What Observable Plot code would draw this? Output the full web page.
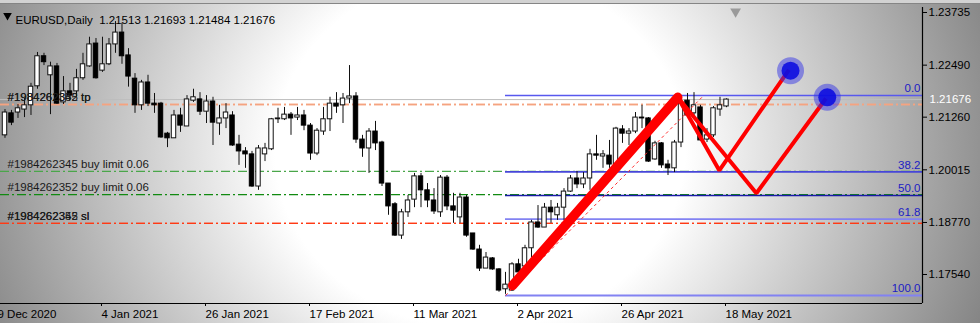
<!DOCTYPE html>
<html>
<head>
<meta charset="utf-8">
<script src="https://cdn.jsdelivr.net/npm/d3@7"></script>
<script src="https://cdn.jsdelivr.net/npm/@observablehq/plot@0.6"></script>
<style>
  html, body { margin: 0; padding: 0; width: 980px; height: 323px; overflow: hidden; }
  #wrap {
    position: relative; width: 980px; height: 323px;
    background: radial-gradient(ellipse 540px 470px at 480px 150px, #ffffff 0%, #ffffff 38%, #848484 100%);
  }
  #strip { position: absolute; left: 0; top: 0; width: 980px; height: 3px; background: #d2d2d2; border-bottom: 1px solid #858585; }
  #wrap svg { position: absolute; left: 0; top: 0; }
</style>
</head>
<body>
<div id="wrap"><div id="strip"></div></div>
<script>
// ---------- data ----------
const symbolTitle = "EURUSD,Daily  1.21513 1.21693 1.21484 1.21676";
const firstBar = 1; // bar index of first candle (0 = 9 Dec 2020)
const openP = [1.2083,1.2135,1.2137,1.2144,1.2154,1.2199,1.2270,1.2225,1.2246,1.2161,
  1.2187,1.2187,1.2218,1.2246,1.2300,1.2236,1.2251,1.2298,1.2326,1.2272,
  1.2217,1.2154,1.2208,1.2158,1.2158,1.2087,1.2076,1.2130,1.2104,1.2165,
  1.2168,1.2139,1.2163,1.2111,1.2123,1.2130,1.2061,1.2045,1.2038,1.1962,
  1.2038,1.2050,1.2121,1.2121,1.2132,1.2125,1.2130,1.2106,1.2040,1.2092,
  1.2121,1.2158,1.2154,1.2170,1.2175,1.2073,1.2052,1.2092,1.2066,1.1969,
  1.1920,1.1846,1.1901,1.1931,1.1986,1.1953,1.1929,1.1901,1.1983,1.1915,
  1.1889,1.1936,1.1851,1.1813,1.1768,1.1792,1.1766,1.1719,1.1716,1.1778,
  1.1773,1.1816,1.1877,1.1865,1.1912,1.1894,1.1912,1.1950,1.1981,1.1967,
  1.1981,1.2038,1.2033,1.2035,1.2014,1.2097,1.2087,1.2092,1.2125,1.2123,
  1.2026,1.2064,1.2014,1.2005,1.2066,1.2165,1.2135,1.2149,1.2073,1.2083,
  1.2144,1.21513];
const highP = [1.2144,1.2142,1.2156,1.2170,1.2206,1.2279,1.2277,1.2256,1.2253,1.2222,
  1.2206,1.2239,1.2277,1.2315,1.2312,1.2315,1.2312,1.2352,1.2348,1.2288,
  1.2229,1.2213,1.2225,1.2182,1.2161,1.2090,1.2142,1.2147,1.2177,1.2192,
  1.2184,1.2177,1.2173,1.2154,1.2158,1.2139,1.2083,1.2054,1.2045,1.2059,
  1.2064,1.2123,1.2147,1.2149,1.2137,1.2149,1.2142,1.2111,1.2099,1.2149,
  1.2173,1.2184,1.2182,1.2248,1.2184,1.2083,1.2099,1.2116,1.2069,1.1969,
  1.1924,1.1908,1.1941,1.1993,1.1993,1.1969,1.1957,1.1988,1.1988,1.1946,
  1.1946,1.1941,1.1851,1.1823,1.1806,1.1794,1.1768,1.1759,1.1782,1.1790,
  1.1823,1.1882,1.1917,1.1922,1.1929,1.1922,1.1957,1.1988,1.1998,1.1995,
  1.2050,1.2083,1.2047,1.2071,1.2102,1.2106,1.2099,1.2137,1.2154,1.2125,
  1.2069,1.2066,1.2024,1.2071,1.2165,1.2182,1.2184,1.2154,1.2099,1.2151,
  1.2173,1.21693];
const lowP = [1.2076,1.2106,1.2123,1.2125,1.2130,1.2192,1.2248,1.2132,1.2156,1.2156,
  1.2165,1.2173,1.2213,1.2244,1.2216,1.2232,1.2248,1.2277,1.2251,1.2197,
  1.2135,1.2142,1.2151,1.2135,1.2076,1.2054,1.2076,1.2090,1.2104,1.2161,
  1.2130,1.2111,1.2059,1.2083,1.2099,1.2057,1.2012,1.2005,1.1960,1.1953,
  1.2021,1.2047,1.2111,1.2118,1.2083,1.2118,1.2094,1.2024,1.2035,1.2083,
  1.2092,1.2135,1.2111,1.2158,1.2064,1.2031,1.1993,1.2047,1.1962,1.1894,
  1.1844,1.1837,1.1889,1.1912,1.1912,1.1912,1.1896,1.1889,1.1905,1.1875,
  1.1875,1.1842,1.1811,1.1761,1.1768,1.1764,1.1712,1.1707,1.1714,1.1759,
  1.1771,1.1794,1.1863,1.1865,1.1875,1.1882,1.1882,1.1948,1.1957,1.1957,
  1.1953,1.2024,1.2005,1.2005,1.2012,1.2064,1.2059,1.2087,1.2099,1.2019,
  1.2024,1.2005,1.1988,1.1995,1.2054,1.2128,1.2128,1.2069,1.2066,1.2078,
  1.2128,1.21484];
const closeP = [1.2137,1.2113,1.2147,1.2154,1.2198,1.2270,1.2256,1.2246,1.2158,1.2187,
  1.2177,1.2218,1.2251,1.2298,1.2218,1.2251,1.2298,1.2326,1.2270,1.2222,
  1.2154,1.2208,1.2158,1.2154,1.2078,1.2076,1.2130,1.2106,1.2168,1.2173,
  1.2139,1.2163,1.2113,1.2123,1.2137,1.2059,1.2045,1.2038,1.1962,1.2052,
  1.2052,1.2121,1.2123,1.2132,1.2123,1.2130,1.2106,1.2040,1.2094,1.2121,
  1.2158,1.2151,1.2170,1.2175,1.2073,1.2052,1.2092,1.2064,1.1969,1.1915,
  1.1846,1.1901,1.1929,1.1986,1.1953,1.1929,1.1903,1.1983,1.1915,1.1905,
  1.1936,1.1846,1.1813,1.1768,1.1794,1.1766,1.1716,1.1730,1.1778,1.1759,
  1.1816,1.1877,1.1865,1.1912,1.1901,1.1912,1.1950,1.1981,1.1967,1.1981,
  1.2038,1.2035,1.2038,1.2014,1.2099,1.2087,1.2092,1.2125,1.2123,1.2021,
  1.2064,1.2012,1.2005,1.2066,1.2158,1.2130,1.2154,1.2071,1.2083,1.2147,
  1.2154,1.21676];

const xTickBars = [0, 16, 32, 48, 64, 80, 96, 112];
const xTickLabels = ["9 Dec 2020","4 Jan 2021","26 Jan 2021","17 Feb 2021","11 Mar 2021","2 Apr 2021","26 Apr 2021","18 May 2021"];
const yTicks = [1.23735, 1.22490, 1.21260, 1.20015, 1.18770, 1.17540];
const bidPrice = 1.21676;

const orderLabels = ["#1984262345 tp","#1984262352 tp","#1984262345 buy limit 0.06","#1984262352 buy limit 0.06","#1984262345 sl","#1984262352 sl"];
const orderPrices = [1.2156, 1.2156, 1.1998, 1.1943, 1.1875, 1.1875];
const orderColors = ["#f5a380","#f5a380","#4aa64a","#118a11","#ff3a14","#ff3a14"];

const fibLevels = ["0.0","38.2","50.0","61.8","100.0"];
const fibPrices = [1.21773, 1.19966, 1.19408, 1.18850, 1.17043];
const fibColors = ["#5858ee","#4646d8","#1a1aa8","#8282f2","#8282f2"];
const fibWidths = [1.6, 1.6, 1.3, 1.8, 1.8];
const fibStartBar = 78;
const fibDiagBars = [78, 108.5];
const fibDiagPrices = [1.17043, 1.21773];

const thickBars = [79.1, 104.5];
const thickPrices = [1.1728, 1.2173];
const zig1Bars = [104.5, 110.9, 121.6];
const zig1Prices = [1.2173, 1.2000, 1.2238];
const zig2Bars = [104.5, 116.6, 127.3];
const zig2Prices = [1.2173, 1.1946, 1.2170];
const targetBars = [121.85, 127.5];
const targetPrices = [1.2236, 1.2173];
const shiftMarkerBar = 113.4;

// ---------- build tables ----------
const candles = openP.map((o, k) => ({i: firstBar + k, o, h: highP[k], l: lowP[k], c: closeP[k]}));
const bulls = candles.filter(d => d.c >= d.o);
const bears = candles.filter(d => d.c < d.o);
const orders = orderLabels.map((t, k) => ({t, p: orderPrices[k], col: orderColors[k]}));
const fibs = fibLevels.map((t, k) => ({t, p: fibPrices[k], col: fibColors[k], w: fibWidths[k]}));
const toPts = (bars, prices) => bars.map((b, k) => ({b, p: prices[k]}));
const zigs = [
  ...toPts(zig1Bars, zig1Prices).map(d => ({...d, z: 1})),
  ...toPts(zig2Bars, zig2Prices).map(d => ({...d, z: 2}))
];
const targets = toPts(targetBars, targetPrices);
const labelMap = new Map(xTickBars.map((b, k) => [b, xTickLabels[k]]));

const xDomain = [0.3077, 142.1538];
const yDomain = [1.16854, 1.23853];
const hw = 0.34;

const chart = Plot.plot({
  width: 980, height: 323,
  marginLeft: 0, marginRight: 58, marginTop: 7, marginBottom: 20,
  x: {type: "linear", domain: xDomain, axis: null},
  y: {type: "linear", domain: yDomain, axis: null},
  style: {background: "transparent", fontFamily: "'Liberation Sans', Arial, sans-serif", fontSize: "11px", color: "#000", overflow: "visible"},
  marks: [
    // order lines
    Plot.ruleY(orders, {y: "p", stroke: "col", strokeWidth: 1.3, strokeDasharray: "9,3,2,3"}),
    // bid line
    Plot.ruleY([bidPrice], {stroke: "#bdbdbd", strokeWidth: 1}),
    // fibo levels
    ...fibs.map(f => Plot.ruleY([f], {y: "p", x1: fibStartBar, x2: xDomain[1], stroke: "col", strokeWidth: f.w})),
    Plot.text(fibs, {y: "p", text: "t", frameAnchor: "right", dx: -2, dy: -7, textAnchor: "end", fill: "#1c1cc4", fontSize: 11.5}),
    // candles
    Plot.ruleX(candles, {x: "i", y1: "l", y2: "h", stroke: "#111", strokeWidth: 1}),
    Plot.rect(bulls, {x1: d => d.i - hw, x2: d => d.i + hw, y1: "o", y2: "c", fill: "white", stroke: "#111", strokeWidth: 1, inset: 0}),
    Plot.rect(bears, {x1: d => d.i - hw, x2: d => d.i + hw, y1: "o", y2: "c", fill: "#000", stroke: "#000", strokeWidth: 1, inset: 0}),
    // order labels
    Plot.text(orders, {y: "p", text: "t", frameAnchor: "left", dx: 7, dy: -7, textAnchor: "start", fill: "#1a1a1a", fontSize: 11.5}),
    // fib diagonal
    Plot.link([0], {x1: () => fibDiagBars[0], y1: () => fibDiagPrices[0], x2: () => fibDiagBars[1], y2: () => fibDiagPrices[1], stroke: "#ff2a2a", strokeWidth: 1, strokeDasharray: "3,3"}),
    // drawn forecast path
    Plot.line(toPts(thickBars, thickPrices), {x: "b", y: "p", stroke: "#ff0000", strokeWidth: 9.5, strokeLinecap: "round"}),
    Plot.line(zigs, {x: "b", y: "p", z: "z", stroke: "#ff0000", strokeWidth: 4, strokeLinejoin: "miter", strokeLinecap: "butt"}),
    Plot.dot(targets, {x: "b", y: "p", r: 13.5, fill: "#3535e6", fillOpacity: 0.5, stroke: "none"}),
    Plot.dot(targets, {x: "b", y: "p", r: 9, fill: "#0a0ae0", fillOpacity: 0.88, stroke: "none"}),
    // axes
    Plot.ruleY([yDomain[0]], {stroke: "#000", strokeWidth: 1.2}),
    Plot.ruleX([xDomain[1]], {stroke: "#000", strokeWidth: 1.2}),
    Plot.axisY(yTicks, {anchor: "right", tickSize: 4, tickPadding: 2, tickFormat: d => d.toFixed(5), label: null, fontSize: 11.5}),
    Plot.axisX(xTickBars, {anchor: "bottom", tickSize: 3, tickPadding: 3, tickFormat: d => labelMap.get(d), textAnchor: "start", dx: -1, label: null, fontSize: 11.5}),
    // bid label
    Plot.text([bidPrice], {y: d => d, text: d => d.toFixed(5), frameAnchor: "right", dx: 7, textAnchor: "start", fill: "white", fontSize: 11.5, ariaLabel: "bid"}),
    // title
    Plot.dot([0], {frameAnchor: "top-left", dx: 7, dy: 8, symbol: "triangle", rotate: 180, r: 3.2, fill: "#000", stroke: "none"}),
    Plot.text([symbolTitle], {frameAnchor: "top-left", dx: 15, dy: 8, textAnchor: "start", fill: "#000", fontSize: 11.5}),
    // shift marker
    Plot.dot([shiftMarkerBar], {x: d => d, frameAnchor: "top", dy: 4, symbol: "triangle", rotate: 180, r: 4, fill: "#9a9a9a", stroke: "none"})
  ]
});

document.getElementById("wrap").appendChild(chart);

// black box behind bid label
const bidG = chart.querySelector('g[aria-label="bid"]');
if (bidG) {
  const t = bidG.querySelector("text");
  const bb = t.getBBox();
  const r = document.createElementNS("http://www.w3.org/2000/svg", "rect");
  r.setAttribute("x", bb.x - 4);
  r.setAttribute("y", bb.y - 1.5);
  r.setAttribute("width", 980 - (bb.x - 4));
  r.setAttribute("height", bb.height + 3);
  r.setAttribute("fill", "#000");
  bidG.insertBefore(r, bidG.firstChild);
}
</script>
</body>
</html>
